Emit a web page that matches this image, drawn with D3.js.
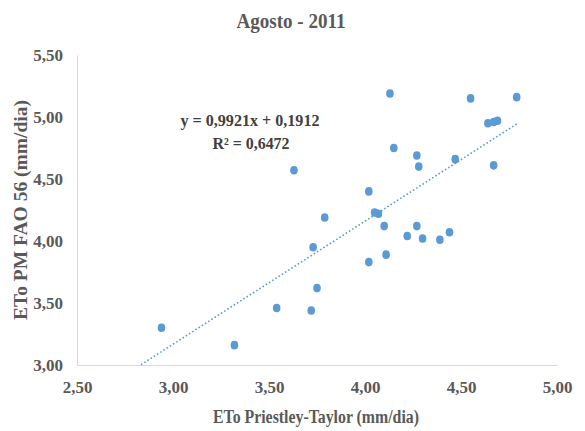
<!DOCTYPE html>
<html>
<head>
<meta charset="utf-8">
<script src="https://cdn.jsdelivr.net/npm/d3@7"></script>
<style>
  html, body { margin: 0; padding: 0; background: #fff; }
  svg { display: block; }
  text { font-family: "Liberation Serif", "Times New Roman", serif; font-weight: bold; fill: #595959; }
</style>
</head>
<body>
<svg id="chart" width="585" height="431"></svg>
<script>
// ETo Priestley-Taylor (x) vs ETo PM FAO 56 (y), mm/dia, August 2011
const etoPT = [2.94, 3.32, 3.54, 3.72, 3.75, 3.73, 3.79, 3.63, 4.02, 4.02,
               4.05, 4.07, 4.10, 4.11, 4.13, 4.15, 4.22, 4.27, 4.28, 4.27,
               4.30, 4.39, 4.44, 4.47, 4.55, 4.64, 4.67, 4.69, 4.67, 4.79];
const etoPM = [3.30, 3.16, 3.46, 3.44, 3.62, 3.95, 4.19, 4.57, 3.83, 4.40,
               4.23, 4.22, 4.12, 3.89, 5.19, 4.75, 4.04, 4.69, 4.60, 4.12,
               4.02, 4.01, 4.07, 4.66, 5.15, 4.95, 4.96, 4.97, 4.61, 5.16];

// Linear trend line
const trendSlope = 0.9921;
const trendIntercept = 0.1912;
const trendR2 = 0.6472;

const xTicks = [2.5, 3.0, 3.5, 4.0, 4.5, 5.0];
const yTicks = [3.0, 3.5, 4.0, 4.5, 5.0, 5.5];

const titleText = "Agosto - 2011";
const xTitle = "ETo Priestley-Taylor (mm/dia)";
const yTitle = "ETo PM FAO 56 (mm/dia)";

const W = 585, H = 431;
const margin = { top: 55, right: 28, bottom: 66, left: 77 };
const iw = W - margin.left - margin.right;
const ih = H - margin.top - margin.bottom;

const fmt = v => d3.format(".2f")(v).replace(".", ",");
const fmt4 = v => d3.format(".4f")(v).replace(".", ",");

const svg = d3.select("#chart");
svg.append("rect").attr("width", W).attr("height", H).attr("fill", "#fff");

const x = d3.scaleLinear().domain([2.5, 5.0]).range([0, iw]);
const y = d3.scaleLinear().domain([3.0, 5.5]).range([ih, 0]);

const g = svg.append("g").attr("transform", `translate(${margin.left},${margin.top})`);

svg.append("defs").append("clipPath").attr("id", "plotClip")
  .append("rect").attr("width", iw).attr("height", ih);

// Axes (lines only, no tick marks)
const xAxis = g.append("g").attr("transform", `translate(0,${ih})`)
  .call(d3.axisBottom(x).tickValues(xTicks).tickFormat(fmt).tickSize(0).tickPadding(16));
const yAxis = g.append("g")
  .call(d3.axisLeft(y).tickValues(yTicks).tickFormat(fmt).tickSize(0).tickPadding(14));

[xAxis, yAxis].forEach(a => {
  a.select(".domain").attr("stroke", "#d9d9d9").attr("stroke-width", 1);
  a.selectAll("text")
    .attr("font-family", "Liberation Serif, serif")
    .attr("font-weight", "bold")
    .attr("font-size", 17)
    .attr("fill", "#595959");
});
yAxis.selectAll("text").attr("dy", "0.35em");

// Trend line
const trendX = [x.domain()[0], d3.max(etoPT)];
g.append("line")
  .attr("clip-path", "url(#plotClip)")
  .attr("x1", x(trendX[0])).attr("y1", y(trendSlope * trendX[0] + trendIntercept))
  .attr("x2", x(trendX[1])).attr("y2", y(trendSlope * trendX[1] + trendIntercept))
  .attr("stroke", "#5b9bd5")
  .attr("stroke-width", 1.6)
  .attr("stroke-dasharray", "1.6,2.2");

// Points
g.selectAll("ellipse.pt")
  .data(etoPT.map((v, i) => [v, etoPM[i]]))
  .join("ellipse")
  .attr("class", "pt")
  .attr("cx", d => x(d[0]))
  .attr("cy", d => y(d[1]))
  .attr("rx", 3.8)
  .attr("ry", 4.3)
  .attr("fill", "#5b9bd5");

// Equation label
const eq = svg.append("g").attr("font-size", 16);
eq.append("text")
  .attr("x", 250).attr("y", 126)
  .attr("text-anchor", "middle")
  .style("fill", "#404040")
  .attr("textLength", 139).attr("lengthAdjust", "spacingAndGlyphs")
  .text(`y = ${fmt4(trendSlope)}x + ${fmt4(trendIntercept)}`);
eq.append("text")
  .attr("x", 251).attr("y", 149)
  .attr("text-anchor", "middle")
  .style("fill", "#404040")
  .attr("textLength", 77).attr("lengthAdjust", "spacingAndGlyphs")
  .text(`R² = ${fmt4(trendR2)}`);

// Titles
svg.append("text")
  .attr("x", 291).attr("y", 28)
  .attr("text-anchor", "middle")
  .attr("font-size", 22)
  .attr("textLength", 109).attr("lengthAdjust", "spacingAndGlyphs")
  .text(titleText);

svg.append("text")
  .attr("x", 316).attr("y", 423)
  .attr("text-anchor", "middle")
  .attr("font-size", 18.5)
  .attr("textLength", 206).attr("lengthAdjust", "spacingAndGlyphs")
  .text(xTitle);

svg.append("text")
  .attr("transform", "translate(27,210) rotate(-90)")
  .attr("text-anchor", "middle")
  .attr("font-size", 18.5)
  .attr("textLength", 220).attr("lengthAdjust", "spacingAndGlyphs")
  .text(yTitle);
</script>
</body>
</html>
